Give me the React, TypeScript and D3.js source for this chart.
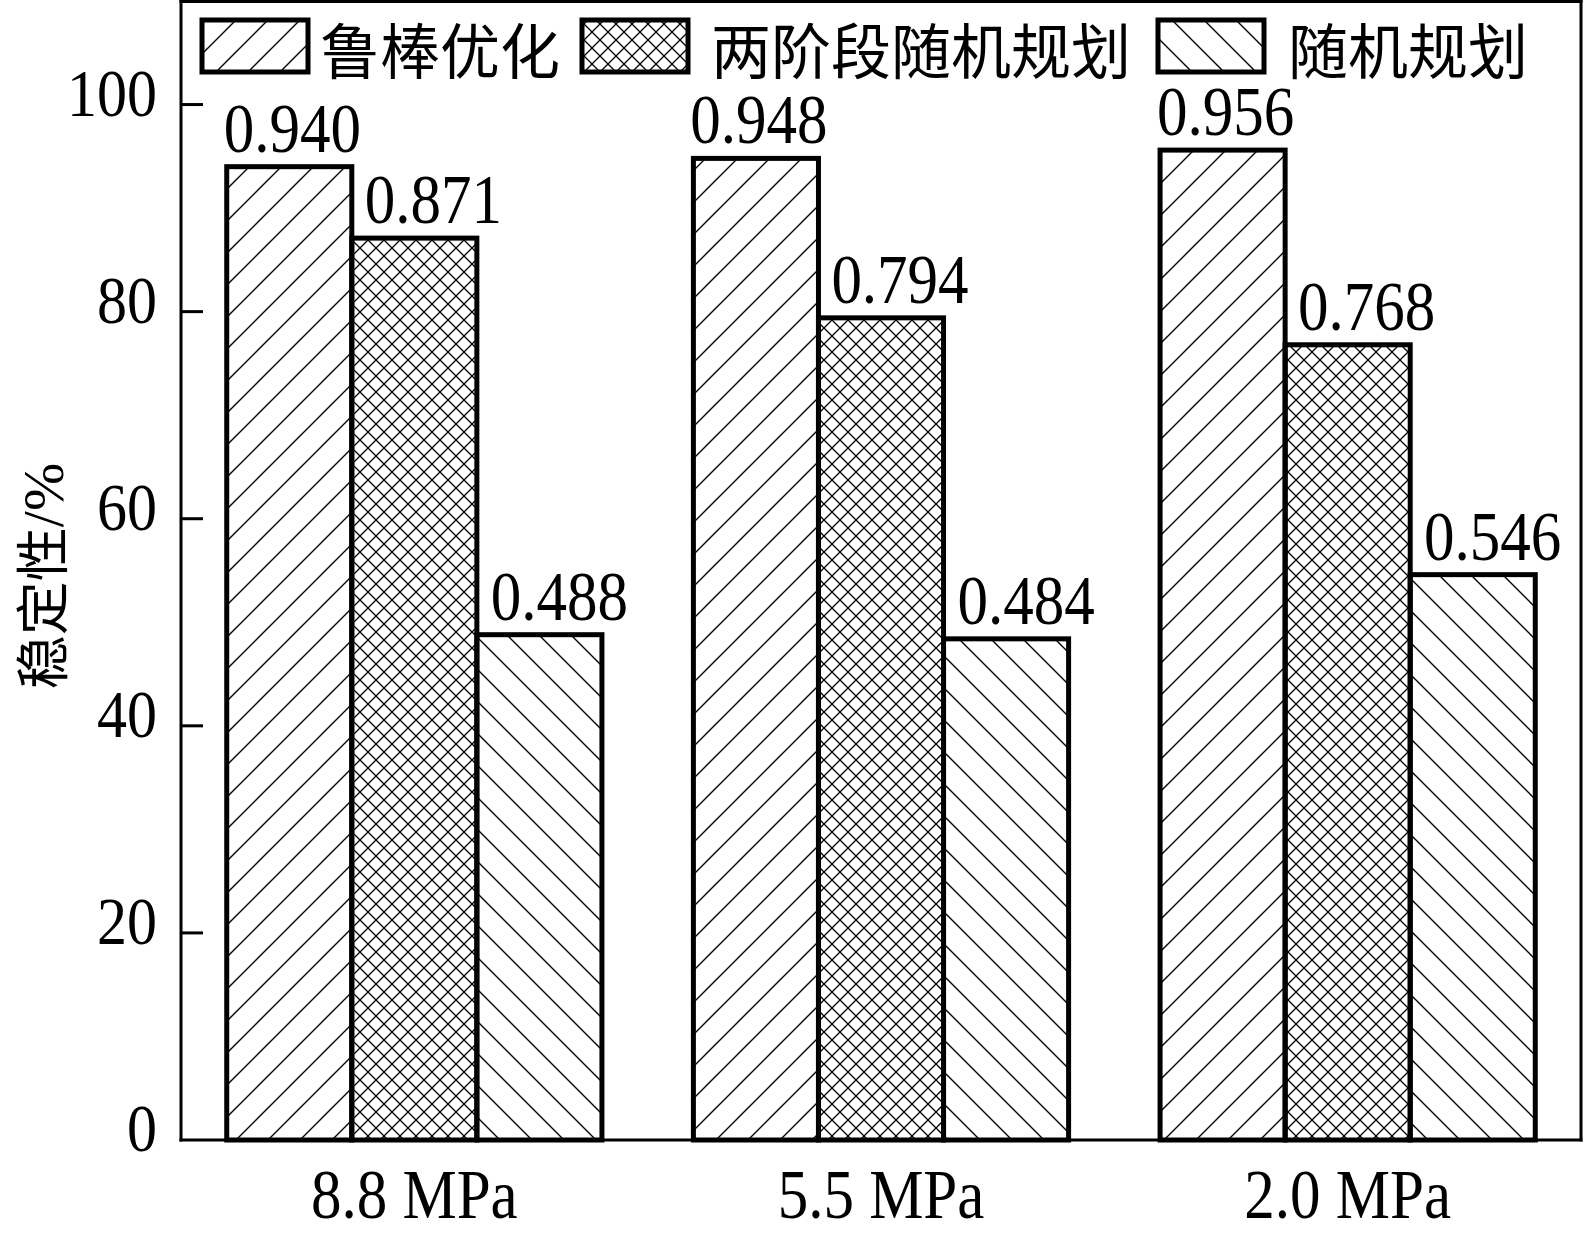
import React from 'react';
import * as d3 from 'd3';

const groups = ['8.8 MPa', '5.5 MPa', '2.0 MPa'];
const seriesNames = ['鲁棒优化', '两阶段随机规划', '随机规划'];
const robustValues = [94.0, 94.8, 95.6];
const twoStageValues = [87.1, 79.4, 76.8];
const stochasticValues = [48.8, 48.4, 54.6];
const robustLabels = ['0.940', '0.948', '0.956'];
const twoStageLabels = ['0.871', '0.794', '0.768'];
const stochasticLabels = ['0.488', '0.484', '0.546'];
const yTicks = [0, 20, 40, 60, 80, 100];
const yLabelCn = '稳定性';
const yLabelUnit = '/%';

const W = 1586;
const H = 1239;
const L = 181;
const R = 1581;
const T = 1;
const B = 1140;
const NUM_FONT = '"Liberation Serif", "Times New Roman", serif';
const CJK_FONT = '"Noto Sans CJK SC", "Noto Sans CJK JP", sans-serif';
const STRETCH = 1.13;

const seriesValues = [robustValues, twoStageValues, stochasticValues];
const seriesLabels = [robustLabels, twoStageLabels, stochasticLabels];
const patternIds = ['hatch-fwd', 'hatch-cross', 'hatch-back'];
const labelDx = [3, 19, 20];

function NumText({ x, y, anchor, size, children }: { x: number; y: number; anchor: string; size: number; children: React.ReactNode }) {
  return (
    <text transform={`translate(${x},${y}) scale(1,${STRETCH})`} textAnchor={anchor as any}
      fontFamily={NUM_FONT} fontSize={size} fill="#000">{children}</text>
  );
}

export default function App() {
  const x0 = d3.scaleBand<string>().domain(groups).range([L, R]).paddingInner(0.196).paddingOuter(0.098);
  const x1 = d3.scaleBand<number>().domain([0, 1, 2]).range([0, x0.bandwidth()]);
  const y = d3.scaleLinear().domain([0, 110]).range([B, T]);

  const legendItems = [
    { box: 202, text: 320 },
    { box: 582, text: 711 },
    { box: 1158, text: 1288 },
  ];

  return (
    <svg width={W} height={H} style={{ position: 'absolute', left: 0, top: 0, background: '#fff' }}>
      <defs>
        <pattern id="hatch-fwd" patternUnits="userSpaceOnUse" width={32} height={32}>
          <path d="M-8,8 L8,-8 M0,32 L32,0 M24,40 L40,24" stroke="#000" strokeWidth={1.4} />
        </pattern>
        <pattern id="hatch-back" patternUnits="userSpaceOnUse" width={32} height={32}>
          <path d="M-8,24 L8,40 M0,0 L32,32 M24,-8 L40,8" stroke="#000" strokeWidth={1.4} />
        </pattern>
        <pattern id="hatch-cross" patternUnits="userSpaceOnUse" width={16} height={16}>
          <path d="M0,16 L16,0 M-4,4 L4,-4 M12,20 L20,12 M0,0 L16,16 M-4,12 L4,20 M12,-4 L20,4" stroke="#000" strokeWidth={1.3} />
        </pattern>
      </defs>
      <rect x={0} y={0} width={W} height={H} fill="#fff" />

      {/* bars */}
      {groups.map((g, gi) => (
        <g key={g}>
          {seriesValues.map((vals, si) => {
            const bx = (x0(g) as number) + (x1(si) as number);
            const by = y(vals[gi]);
            return (
              <rect key={si} x={bx} y={by} width={x1.bandwidth()} height={B - by}
                fill={`url(#${patternIds[si]})`} stroke="#000" strokeWidth={5} />
            );
          })}
        </g>
      ))}

      {/* bar value labels */}
      {groups.map((g, gi) => (
        <g key={'l' + g}>
          {seriesLabels.map((labs, si) => {
            const cx = (x0(g) as number) + (x1(si) as number) + x1.bandwidth() / 2 + labelDx[si];
            return (
              <NumText key={si} x={cx} y={y(seriesValues[si][gi]) - 15} anchor="middle" size={61}>{labs[gi]}</NumText>
            );
          })}
        </g>
      ))}

      {/* frame */}
      <line x1={L} x2={L} y1={0} y2={B + 1.5} stroke="#000" strokeWidth={3} />
      <line x1={L - 1.5} x2={R + 1.5} y1={B} y2={B} stroke="#000" strokeWidth={3} />
      <line x1={L - 1.5} x2={R + 1.5} y1={1.5} y2={1.5} stroke="#000" strokeWidth={3} />
      <line x1={R} x2={R} y1={0} y2={B + 1.5} stroke="#000" strokeWidth={3} />

      {/* y ticks */}
      {yTicks.map((t) => (
        <g key={t}>
          {t > 0 && <line x1={L} x2={L + 22} y1={y(t)} y2={y(t)} stroke="#000" strokeWidth={3} />}
          <NumText x={157} y={y(t) + 11} anchor="end" size={60}>{t}</NumText>
        </g>
      ))}

      {/* x labels */}
      {groups.map((g) => (
        <NumText key={'x' + g} x={(x0(g) as number) + x0.bandwidth() / 2} y={1218} anchor="middle" size={61}>{g}</NumText>
      ))}

      {/* y axis label */}
      <text transform="translate(63,576) rotate(-90)" textAnchor="middle" fill="#000">
        <tspan fontFamily={CJK_FONT} fontSize={54}>{yLabelCn}</tspan>
        <tspan fontFamily={NUM_FONT} fontSize={58}>{yLabelUnit}</tspan>
      </text>

      {/* legend */}
      {seriesNames.map((name, si) => (
        <g key={name}>
          <rect x={legendItems[si].box} y={20} width={106} height={52}
            fill={`url(#${patternIds[si]})`} stroke="#000" strokeWidth={5} />
          <text x={legendItems[si].text} y={47} dominantBaseline="central"
            fontFamily={CJK_FONT} fontSize={60} fill="#000">{name}</text>
        </g>
      ))}
    </svg>
  );
}
